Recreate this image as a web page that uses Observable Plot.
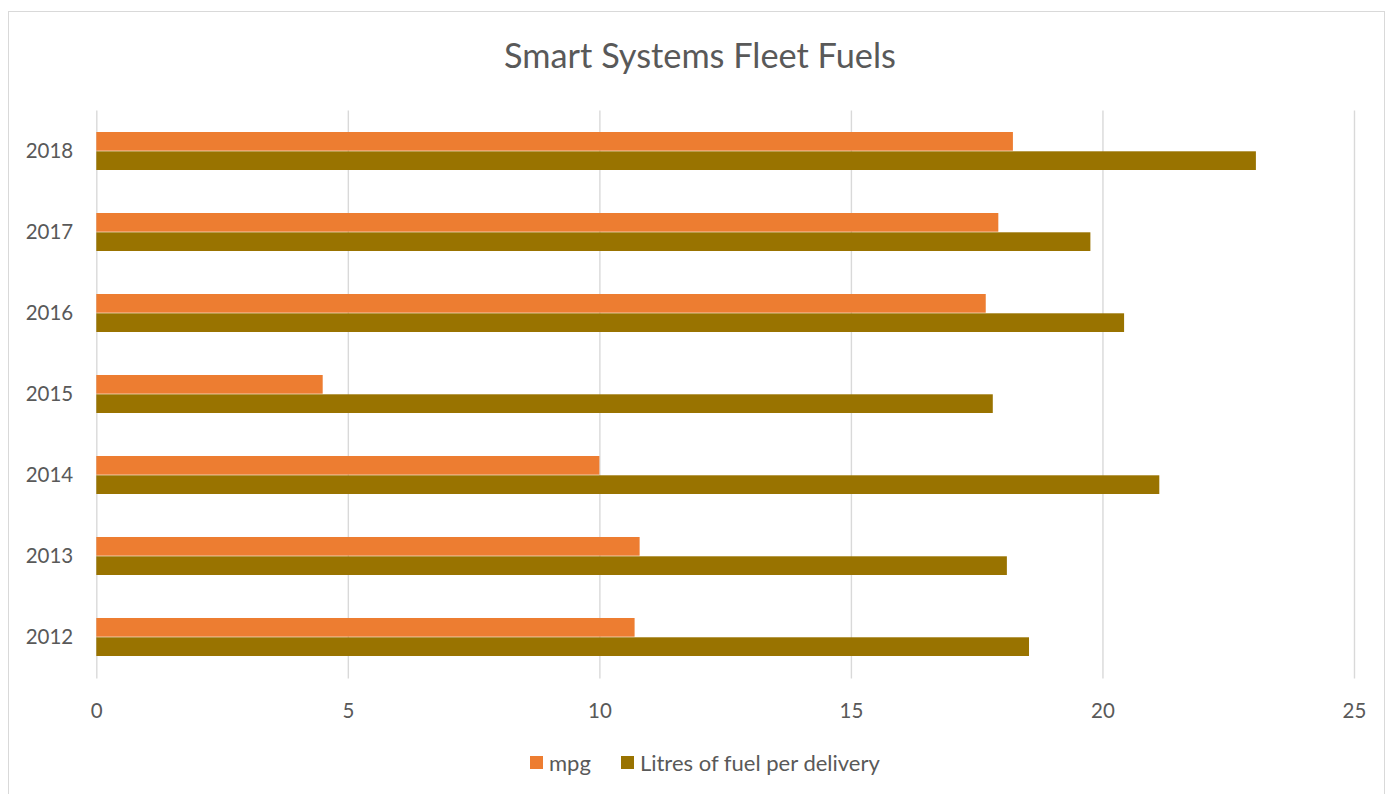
<!DOCTYPE html>
<html>
<head>
<meta charset="utf-8">
<script src="https://cdn.jsdelivr.net/npm/d3@7"></script>
<script src="https://cdn.jsdelivr.net/npm/@observablehq/plot@0.6"></script>
<style>
  html, body { margin: 0; padding: 0; background: #fff; }
  #page { position: relative; width: 1387px; height: 794px; overflow: hidden; font-family: Lato, "Open Sans", sans-serif; }
  #frame { position: absolute; left: 8px; top: 11px; width: 1377px; height: 800px; border: 1.5px solid #d9d9d9; box-sizing: border-box; }
  #title { position: absolute; left: 700px; top: 34px; transform: translateX(-50%); font-size: 34.3px; color: #595959; white-space: nowrap; }
  #chart { position: absolute; left: 0; top: 95px; }
  #legend { position: absolute; left: 530px; top: 749px; display: flex; align-items: center; font-size: 22px; color: #595959; white-space: nowrap; }
  .item { display: flex; align-items: center; margin-right: 30px; }
  .sw { width: 13px; height: 13px; margin-right: 6px; }
</style>
</head>
<body>
<div id="page">
  <div id="frame"></div>
  <div id="title"></div>
  <div id="chart"></div>
  <div id="legend"></div>
</div>
<script>
const titleText = "Smart Systems Fleet Fuels";
const years = ["2012", "2013", "2014", "2015", "2016", "2017", "2018"];
const mpg = [10.7, 10.8, 10.0, 4.5, 17.68, 17.93, 18.22];
const litres = [18.54, 18.1, 21.13, 17.82, 20.43, 19.76, 23.05];
const seriesNames = ["mpg", "Litres of fuel per delivery"];
const seriesColors = ["#ED7D31", "#997300"];
const xTicks = [0, 5, 10, 15, 20, 25];

document.getElementById("title").textContent = titleText;

const rows = years.map((y, i) => ({year: y, mpg: mpg[i], litres: litres[i]}));
const half = 19.3;

const chart = Plot.plot({
  width: 1387,
  height: 633.6,
  marginLeft: 96.3,
  marginRight: 33,
  marginTop: 15.4,
  marginBottom: 50,
  style: {fontFamily: "Lato, 'Open Sans', sans-serif", fontSize: "20px", color: "#595959", background: "transparent"},
  x: {domain: [0, 25], ticks: xTicks, tickSize: 0, tickPadding: 24, label: null},
  y: {domain: years.slice().reverse(), paddingInner: 0.525, paddingOuter: 0.2625, tickSize: 0, tickPadding: 23.6, label: null},
  marks: [
    Plot.ruleX(xTicks, {stroke: "#d9d9d9", strokeWidth: 1.4}),
    Plot.barX(rows, {y: "year", x: "mpg", fill: seriesColors[0], insetBottom: half}),
    Plot.barX(rows, {y: "year", x: "litres", fill: seriesColors[1], insetTop: half}),
    Plot.axisX({ticks: xTicks, tickSize: 0, tickPadding: 24, fill: "#595959", fontSize: 20.5}),
    Plot.axisY({tickSize: 0, tickPadding: 23.6, fill: "#595959", fontSize: 20.5})
  ]
});
document.getElementById("chart").appendChild(chart);

const legend = document.getElementById("legend");
seriesNames.forEach((name, i) => {
  const item = document.createElement("div");
  item.className = "item";
  const sw = document.createElement("div");
  sw.className = "sw";
  sw.style.background = seriesColors[i];
  const label = document.createElement("span");
  label.textContent = name;
  item.appendChild(sw);
  item.appendChild(label);
  legend.appendChild(item);
});
</script>
</body>
</html>
